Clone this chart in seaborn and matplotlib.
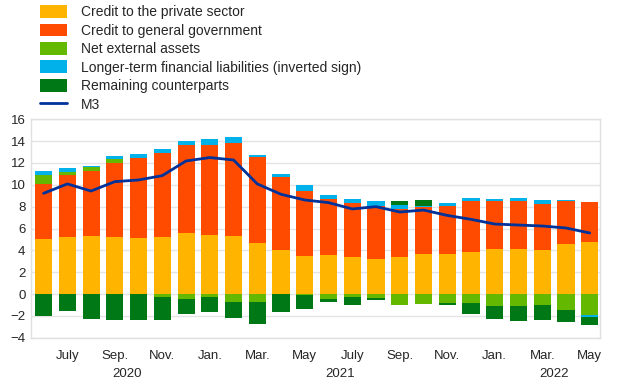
import numpy as np
import pandas as pd
import matplotlib
matplotlib.use("Agg")
import matplotlib.pyplot as plt
import seaborn as sns
from matplotlib.patches import Patch
from matplotlib.lines import Line2D

# monthly contributions, June 2020 - May 2022 (percentage points)
months = pd.date_range("2020-06-01", "2022-05-01", freq="MS")
private = [5.04, 5.25, 5.31, 5.19, 5.16, 5.25, 5.62, 5.37, 5.28, 4.70, 4.03, 3.51,
           3.57, 3.42, 3.18, 3.36, 3.63, 3.66, 3.82, 4.09, 4.15, 4.06, 4.58, 4.79]
government = [5.01, 5.62, 5.99, 6.81, 7.33, 7.64, 8.06, 8.28, 8.55, 7.85, 6.69, 5.92,
              5.16, 4.92, 4.88, 4.43, 4.37, 4.40, 4.67, 4.46, 4.40, 4.18, 3.97, 3.64]
external = [0.82, 0.33, 0.30, 0.34, 0.0, -0.25, -0.46, -0.30, -0.73, -0.70, 0.0, -0.05,
            -0.49, -0.27, -0.34, -0.95, -0.92, -0.79, -0.79, -1.10, -1.10, -1.00, -1.47, -1.95]
longterm = [0.37, 0.30, 0.12, 0.30, 0.33, 0.42, 0.30, 0.52, 0.52, 0.21, 0.24, 0.52,
            0.37, 0.33, 0.46, 0.33, 0.09, 0.28, 0.27, 0.15, 0.24, 0.37, 0.06, -0.12]
remaining = [-2.00, -1.50, -2.26, -2.38, -2.38, -2.16, -1.37, -1.38, -1.41, -1.99, -1.62, -1.32,
             -0.24, -0.68, -0.18, 0.40, 0.52, -0.21, -1.07, -1.13, -1.34, -1.35, -1.06, -0.80]
m3 = [9.22, 10.08, 9.43, 10.29, 10.44, 10.84, 12.18, 12.49, 12.27, 10.08, 9.13, 8.61,
      8.37, 7.79, 8.00, 7.51, 7.69, 7.20, 6.84, 6.41, 6.32, 6.23, 6.05, 5.59]

tick_pos = [1, 3, 5, 7, 9, 11, 13, 15, 17, 19, 21, 23]
tick_labels = ["July", "Sep.", "Nov.", "Jan.", "Mar.", "May",
               "July", "Sep.", "Nov.", "Jan.", "Mar.", "May"]
years = ["2020", "2021", "2022"]
year_pos = [3.5, 12.5, 21.5]

series = [
    ("Credit to the private sector", private, "#FFB400"),
    ("Credit to general government", government, "#FF4B00"),
    ("Net external assets", external, "#65B800"),
    ("Longer-term financial liabilities (inverted sign)", longterm, "#00B1EA"),
    ("Remaining counterparts", remaining, "#007816"),
]

sns.set_theme(style="whitegrid")
plt.rcParams["font.family"] = ["Liberation Sans", "DejaVu Sans"]

fig = plt.figure(figsize=(6.2, 3.87), dpi=100)
ax = fig.add_axes([0.05, 0.127, 0.918, 0.565])

x = np.arange(len(months))
pos_base = np.zeros(len(months))
neg_base = np.zeros(len(months))
for name, vals, color in series:
    v = np.array(vals)
    bottom = np.where(v >= 0, pos_base, neg_base)
    sns.barplot(x=x, y=v, bottom=bottom, color=color, width=0.72,
                errorbar=None, linewidth=0, saturation=1, ax=ax)
    pos_base += np.where(v >= 0, v, 0)
    neg_base += np.where(v < 0, v, 0)

sns.lineplot(x=x, y=m3, color="#003299", linewidth=2, ax=ax)

ax.set_ylim(-4, 16)
ax.set_yticks(range(-4, 17, 2))
ax.set_xlim(-0.53, 23.44)
ax.set_xticks(tick_pos)
ax.set_xticklabels(tick_labels)
ax.tick_params(axis="both", labelsize=9.5, length=0, pad=4)
ax.tick_params(axis="x", pad=9)
ax.grid(axis="x", visible=False)
ax.grid(axis="y", color="#e4e4e4", linewidth=1)
for s in ax.spines.values():
    s.set_color("#e0e0e0")
    s.set_linewidth(1)
for yr, p in zip(years, year_pos):
    ax.text(p, -0.14, yr, transform=ax.get_xaxis_transform(), ha="center",
            va="top", fontsize=9.5)
ax.set_xlabel("")
ax.set_ylabel("")

handles = [Patch(facecolor=c, edgecolor="none", label=n) for n, _, c in series]
handles.append(Line2D([0], [0], color="#003299", linewidth=2, label="M3"))
fig.legend(handles=handles, loc="upper left", bbox_to_anchor=(0.064, 0.987),
           frameon=False, fontsize=10, handlelength=2.0, handleheight=1.05,
           labelspacing=0.31, handletextpad=1.0, borderaxespad=0, borderpad=0)

fig.savefig("out.png", dpi=100)
